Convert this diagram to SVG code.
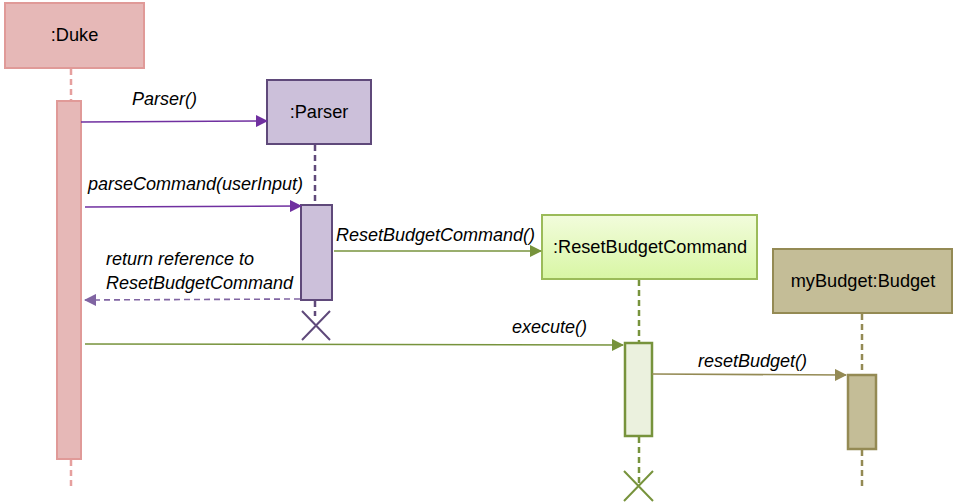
<svg xmlns="http://www.w3.org/2000/svg" width="958" height="503" viewBox="0 0 958 503">
<style>
text{font-family:"Liberation Sans",Arial,sans-serif;fill:#000}
.name{font-size:18.2px}
.msg{font-size:18px;font-style:italic}
.life{fill:none;stroke-width:2.5;stroke-dasharray:6,4}
.msgl{fill:none;stroke-width:1.6}
</style>
<defs>
<marker id="aPurple" markerWidth="12" markerHeight="12" refX="11" refY="6" orient="auto" markerUnits="userSpaceOnUse"><path d="M0,0 L12,6 L0,12 z" fill="#7030a0"/></marker>
<marker id="aRet" markerWidth="12" markerHeight="12" refX="11" refY="6" orient="auto" markerUnits="userSpaceOnUse"><path d="M0,0 L12,6 L0,12 z" fill="#8064a2"/></marker>
<marker id="aGreen" markerWidth="12" markerHeight="12" refX="11" refY="6" orient="auto" markerUnits="userSpaceOnUse"><path d="M0,0 L12,6 L0,12 z" fill="#77933c"/></marker>
<marker id="aOlive" markerWidth="12" markerHeight="12" refX="11" refY="6" orient="auto" markerUnits="userSpaceOnUse"><path d="M0,0 L12,6 L0,12 z" fill="#948a54"/></marker>
<linearGradient id="gGreen" x1="0" y1="0" x2="0" y2="1"><stop offset="0" stop-color="#f2fcdc"/><stop offset="1" stop-color="#d8f6a4"/></linearGradient>
</defs>

<g id="duke">
<rect x="5" y="3" width="139" height="65" fill="#e6b8b7" stroke="#e09a98" stroke-width="2"/>
<text class="name" x="74.5" y="41" text-anchor="middle">:Duke</text>
<line class="life" x1="71" y1="69" x2="71" y2="101" stroke="#e6a09e"/>
<rect x="57" y="101" width="24" height="358" fill="#e6b8b7" stroke="#e09a98" stroke-width="2"/>
<line class="life" x1="71" y1="460" x2="71" y2="488" stroke="#e6a09e"/>
</g>

<g id="parser">
<rect x="267" y="80" width="104" height="64" fill="#ccc0da" stroke="#5f497a" stroke-width="2"/>
<text class="name" x="319" y="118" text-anchor="middle">:Parser</text>
<line class="life" x1="315" y1="145" x2="315" y2="205" stroke="#5f497a"/>
<rect x="301" y="205" width="31" height="95" fill="#ccc0da" stroke="#5f497a" stroke-width="2"/>
<line class="life" x1="315" y1="301" x2="315" y2="316" stroke="#5f497a"/>
<path d="M302,311 L330,340 M330,311 L302,340" stroke="#5f497a" stroke-width="2" fill="none"/>
</g>

<g id="resetBudgetCommand">
<rect x="542" y="215" width="215" height="64" fill="url(#gGreen)" stroke="#9bbb59" stroke-width="2"/>
<text class="name" x="650" y="253" text-anchor="middle">:ResetBudgetCommand</text>
<line class="life" x1="639" y1="280" x2="639" y2="343" stroke="#77933c"/>
<rect x="625" y="343" width="27" height="93" fill="#ebf1de" stroke="#77933c" stroke-width="2.5"/>
<line class="life" x1="639" y1="437" x2="639" y2="484" stroke="#77933c"/>
<path d="M624,471 L653,501 M653,471 L624,501" stroke="#77933c" stroke-width="2" fill="none"/>
</g>

<g id="budget">
<rect x="773" y="249" width="179" height="64" fill="#c4bd97" stroke="#948a54" stroke-width="2"/>
<text class="name" x="863" y="287" text-anchor="middle">myBudget:Budget</text>
<line class="life" x1="862" y1="314" x2="862" y2="375" stroke="#948a54"/>
<rect x="848" y="375" width="28" height="74" fill="#c4bd97" stroke="#948a54" stroke-width="2.5"/>
<line class="life" x1="862" y1="450" x2="862" y2="486" stroke="#948a54"/>
</g>

<g id="connectors">
<line class="msgl" x1="81" y1="122" x2="267" y2="121" stroke="#7030a0" marker-end="url(#aPurple)"/>
<text class="msg" x="132" y="105">Parser()</text>

<line class="msgl" x1="85" y1="207" x2="301" y2="206" stroke="#7030a0" marker-end="url(#aPurple)"/>
<text class="msg" x="88" y="190">parseCommand(userInput)</text>

<line class="msgl" x1="334" y1="251" x2="541" y2="251" stroke="#77933c" marker-end="url(#aGreen)"/>
<text class="msg" x="336" y="241">ResetBudgetCommand()</text>

<line class="msgl" x1="300" y1="299" x2="85" y2="300" stroke="#8064a2" stroke-dasharray="6,4" marker-end="url(#aRet)"/>
<text class="msg" x="106" y="265">return reference to</text>
<text class="msg" x="106" y="289">ResetBudgetCommand</text>

<line class="msgl" x1="85" y1="344" x2="623" y2="345" stroke="#77933c" marker-end="url(#aGreen)"/>
<text class="msg" x="512" y="333">execute()</text>

<line class="msgl" x1="652" y1="374" x2="846" y2="375" stroke="#948a54" marker-end="url(#aOlive)"/>
<text class="msg" x="698" y="367">resetBudget()</text>
</g>
</svg>
